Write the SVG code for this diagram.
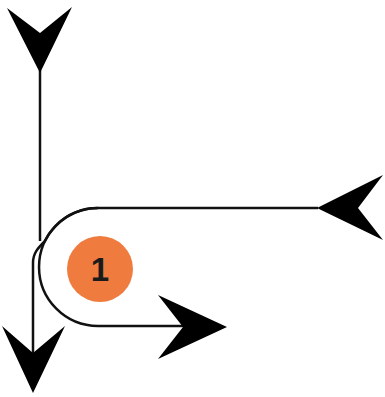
<svg xmlns="http://www.w3.org/2000/svg" width="385" height="397" viewBox="0 0 385 397">
<style>
.ln{fill:none;stroke:#111;stroke-width:2.5}
.ah{fill:#000}
.lbl{font-family:"Liberation Sans",Arial,sans-serif;font-weight:bold;fill:#1a1a1a;text-anchor:middle}
</style>
<rect width="385" height="397" fill="#fff"/>
<g id="connectors">
<path class="ln" d="M40 70 V241"/>
<path class="ln" d="M318 208 H98 A59 59 0 0 0 98 326 H190"/>
<path class="ln" d="M98 208 A59 59 0 0 0 45 241 C38 248 33 253 33 263 V356"/>
<polygon class="ah" points="7,8 40,33 72,7 40,73"/>
<polygon class="ah" points="2,326 33,353 65,326 33,393"/>
<polygon class="ah" points="227,327 158,295 183,327 158,359"/>
<polygon class="ah" points="317,208 383,175 358,208 383,240"/>
</g>
<g id="node-1">
<circle cx="100" cy="269" r="33" fill="#EF7B3F"/>
<text class="lbl" x="100" y="281" font-size="33">1</text>
</g>
</svg>
